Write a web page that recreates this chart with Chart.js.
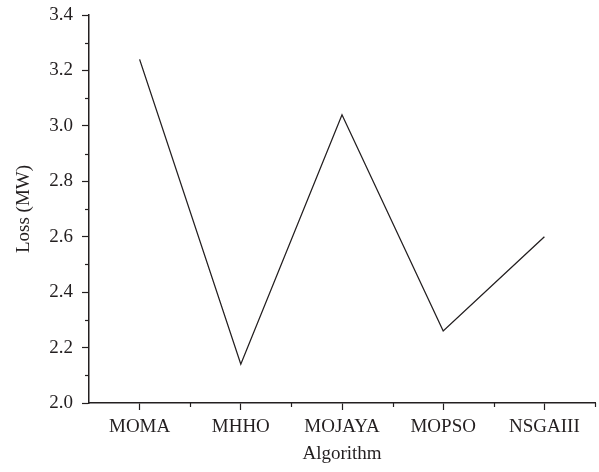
<!DOCTYPE html>
<html>
<head>
<meta charset="utf-8">
<script src="https://cdn.jsdelivr.net/npm/chart.js@4"></script>
<style>
html,body{margin:0;padding:0;background:#fff;}
#wrap{width:599px;height:472px;position:relative;}
</style>
</head>
<body>
<div id="wrap"><canvas id="c" width="599" height="472"></canvas></div>
<script>
const categories = ['MOMA', 'MHHO', 'MOJAYA', 'MOPSO', 'NSGAIII'];
const lossValues = [3.24, 2.14, 3.04, 2.26, 2.60];
const yMin = 2.0, yMax = 3.4, yStep = 0.2, yMinorStep = 0.1;

const INK = '#231f20';
const FONT = "'Liberation Serif', 'Times New Roman', serif";
const FS = 19;

const minorTicks = {
  id: 'minorTicks',
  afterDraw(chart) {
    const ctx = chart.ctx;
    const x = chart.scales.x, y = chart.scales.y;
    ctx.save();
    ctx.strokeStyle = INK;
    ctx.lineWidth = 1.2;
    const n = Math.round((yMax - yMin) / yMinorStep);
    for (let i = 1; i < n; i += 2) {
      const py = Math.round(y.getPixelForValue(yMin + i * yMinorStep)) + 0.5;
      ctx.beginPath();
      ctx.moveTo(x.left - 4, py);
      ctx.lineTo(x.left, py);
      ctx.stroke();
    }
    const half = (x.getPixelForValue(1) - x.getPixelForValue(0)) / 2;
    for (let i = 0; i < categories.length; i++) {
      const px = Math.round(x.getPixelForValue(i) + half) + 0.5;
      ctx.beginPath();
      ctx.moveTo(px, y.bottom);
      ctx.lineTo(px, y.bottom + 4);
      ctx.stroke();
    }
    ctx.restore();
  }
};

new Chart(document.getElementById('c'), {
  type: 'line',
  data: {
    labels: categories,
    datasets: [{
      data: lossValues,
      borderColor: INK,
      borderWidth: 1.3,
      pointRadius: 0,
      tension: 0,
      fill: false
    }]
  },
  options: {
    responsive: false,
    animation: false,
    devicePixelRatio: 1,
    layout: { padding: { top: 15, right: 4, left: 0, bottom: 0 } },
    plugins: { legend: { display: false }, tooltip: { enabled: false } },
    scales: {
      x: {
        type: 'category',
        offset: true,
        afterFit(s) { s.height = 69; s.paddingLeft = 0; s.paddingRight = 0; },
        grid: { display: true, drawOnChartArea: false, drawTicks: true, tickLength: 7, tickColor: INK, tickWidth: 1.2, offset: false },
        border: { display: true, color: INK, width: 1.5 },
        ticks: { color: INK, font: { family: FONT, size: FS }, padding: 6, maxRotation: 0, autoSkip: false },
        title: { display: true, text: 'Algorithm', color: INK, font: { family: FONT, size: FS }, padding: { top: 0, bottom: 7 } }
      },
      y: {
        min: yMin, max: yMax,
        afterFit(s) { s.width = 89; s.paddingTop = 0; s.paddingBottom = 0; },
        grid: { display: true, drawOnChartArea: false, drawTicks: true, tickLength: 7, tickColor: INK, tickWidth: 1.2 },
        border: { display: true, color: INK, width: 1.5 },
        ticks: { stepSize: yStep, color: INK, font: { family: FONT, size: FS }, padding: 9,
          callback: v => v.toFixed(1) },
        title: { display: true, text: 'Loss (MW)', color: INK, font: { family: FONT, size: FS }, padding: { top: 13, bottom: 0 } }
      }
    }
  },
  plugins: [minorTicks]
});
</script>
</body>
</html>
